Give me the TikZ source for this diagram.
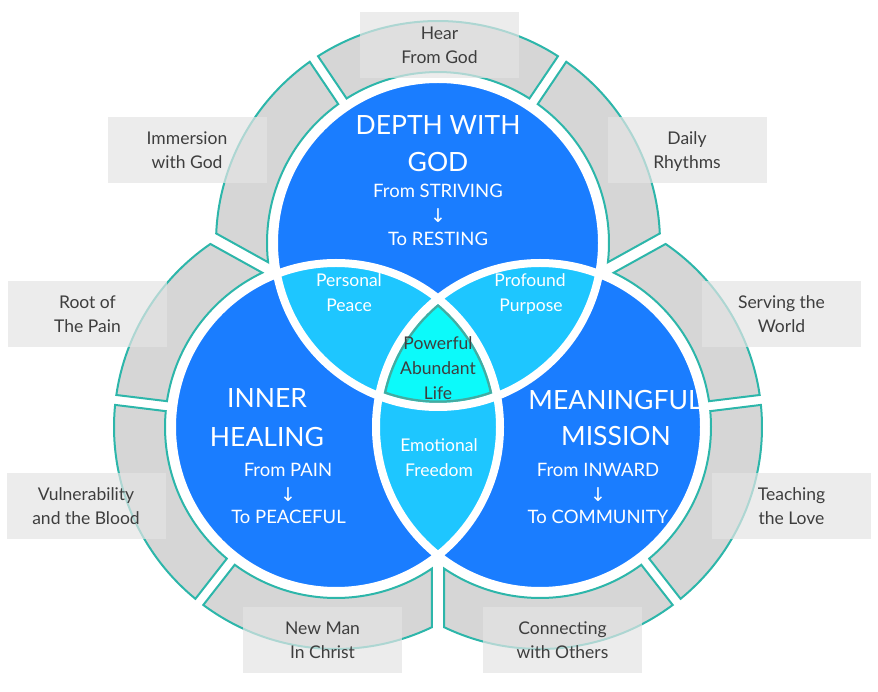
\documentclass[tikz,border=0pt]{standalone}
\usepackage{fontspec}
\setmainfont{Lato}
\newfontfamily\arrowfont{DejaVu Sans}
\definecolor{mainblue}{RGB}{26,125,255}
\definecolor{lensblue}{RGB}{30,198,255}
\definecolor{corecyan}{RGB}{12,250,250}
\definecolor{ringgrey}{RGB}{214,214,214}
\definecolor{ringteal}{RGB}{45,182,170}
\definecolor{coreedge}{RGB}{66,172,162}
\definecolor{labeltext}{RGB}{62,62,62}
\definecolor{boxgrey}{RGB}{228,228,228}
\tikzset{
  ringseg/.style={fill=ringgrey,draw=ringteal,line width=2pt,line join=miter},
  bigtitle/.style={text=white,font=\fontsize{26.5}{30}\selectfont,anchor=base,inner sep=0pt},
  subline/.style={text=white,font=\fontsize{18.5}{20}\selectfont,anchor=base,inner sep=0pt},
  downarrow/.style={text=white,font=\arrowfont\fontsize{19}{20}\selectfont,inner sep=0pt},
  lenstext/.style={text=white,font=\fontsize{17.5}{19}\selectfont,anchor=base,inner sep=0pt},
  coretext/.style={text=labeltext,font=\fontsize{17.5}{19}\selectfont,anchor=base,inner sep=0pt},
  labelbox/.style={fill=boxgrey,fill opacity=0.7,text opacity=1,text=labeltext,
    minimum width=159pt,minimum height=66pt,align=center,text depth=0pt,inner sep=0pt,
    font=\fontsize{17.5}{24}\selectfont},
}
\newcommand\RingSeg[5]{\draw[ringseg,shift={(#1)}] (#2:222) arc[start angle=#2,end angle=#3,radius=222] -- (#4:171) arc[start angle=#4,end angle=#5,radius=171] -- cycle;}
\begin{document}
\begin{tikzpicture}[x=1pt,y=1pt]
\useasboundingbox (0,0) rectangle (878,691);
\coordinate (T) at (438,448);
\coordinate (L) at (336,264);
\coordinate (R) at (540,264);
% outer ring segments
\RingSeg{T}{2.46}{54.71}{54.32}{-6.46}
\RingSeg{T}{57.29}{122.71}{122.32}{57.68}
\RingSeg{T}{125.29}{177.54}{186.46}{125.68}
\RingSeg{L}{124.46}{171.71}{171.32}{115.54}
\RingSeg{L}{174.29}{230.71}{230.32}{174.68}
\RingSeg{L}{233.29}{295.62}{304.15}{233.68}
\RingSeg{R}{8.29}{55.54}{64.46}{8.68}
\RingSeg{R}{-50.71}{5.71}{5.32}{-50.32}
\RingSeg{R}{244.38}{306.71}{306.32}{235.85}
% circles
\fill[mainblue] (T) circle (164) (L) circle (164) (R) circle (164);
\begin{scope}
  \clip (T) circle (164);
  \fill[lensblue] (L) circle (164) (R) circle (164);
\end{scope}
\begin{scope}
  \clip (L) circle (164);
  \fill[lensblue] (R) circle (164);
\end{scope}
\begin{scope}
  \clip (T) circle (164);
  \clip (L) circle (164);
  \fill[corecyan] (R) circle (164);
\end{scope}
\begin{scope}
  \clip (T) circle (160);
  \clip (L) circle (160);
  \clip (R) circle (160);
  \draw[coreedge,line width=5pt] (T) circle (160) (L) circle (160) (R) circle (160);
\end{scope}
\draw[white,line width=8pt] (T) circle (164) (L) circle (164) (R) circle (164);
% top circle text
\node[bigtitle] (t1) at (438,556) {DEPTH WITH};
\node[bigtitle] (t2) at (438,519) {GOD};
\node[subline] (t3) at (438,493) {From STRIVING};
\node[downarrow] (t4) at (438,475) {↓};
\node[subline] (t5) at (438,445) {To RESTING};
% left circle text
\node[bigtitle] (l1) at (267,283) {INNER};
\node[bigtitle] (l2) at (267,244) {HEALING};
\node[subline] (l3) at (288,214) {From PAIN};
\node[downarrow] (l4) at (288,196) {↓};
\node[subline] (l5) at (288.5,167) {To PEACEFUL};
% right circle text
\node[bigtitle] (r1) at (615,281) {MEANINGFUL};
\node[bigtitle] (r2) at (616,245) {MISSION};
\node[subline] (r3) at (598,214) {From INWARD};
\node[downarrow] (r4) at (598,196) {↓};
\node[subline] (r5) at (598,167) {To COMMUNITY};
% lens text
\node[lenstext] (p1) at (349,404) {Personal};
\node[lenstext] (p2) at (349,379) {Peace};
\node[lenstext] (q1) at (530,404) {Profound};
\node[lenstext] (q2) at (531,379) {Purpose};
\node[lenstext] (e1) at (439,239) {Emotional};
\node[lenstext] (e2) at (439,214) {Freedom};
% core text
\node[coretext] (c1) at (438,341) {Powerful};
\node[coretext] (c2) at (438,316) {Abundant};
\node[coretext] (c3) at (438,291) {Life};
% labels
\node[labelbox] (lbHear) at (439.5,646) {Hear\\From God};
\node[labelbox] (lbImm) at (187,541) {Immersion\\with God};
\node[labelbox] (lbDaily) at (687,541) {Daily\\Rhythms};
\node[labelbox] (lbRoot) at (87.5,377) {Root of\\The Pain};
\node[labelbox] (lbServ) at (781.5,377) {Serving the\\World};
\node[labelbox] (lbVuln) at (86,185) {Vulnerability\\and the Blood};
\node[labelbox] (lbTeach) at (791.5,185) {Teaching\\the Love};
\node[labelbox] (lbNew) at (322.5,51) {New Man\\In Christ};
\node[labelbox] (lbConn) at (562.5,51) {Connecting\\with Others};
\end{tikzpicture}
\end{document}
